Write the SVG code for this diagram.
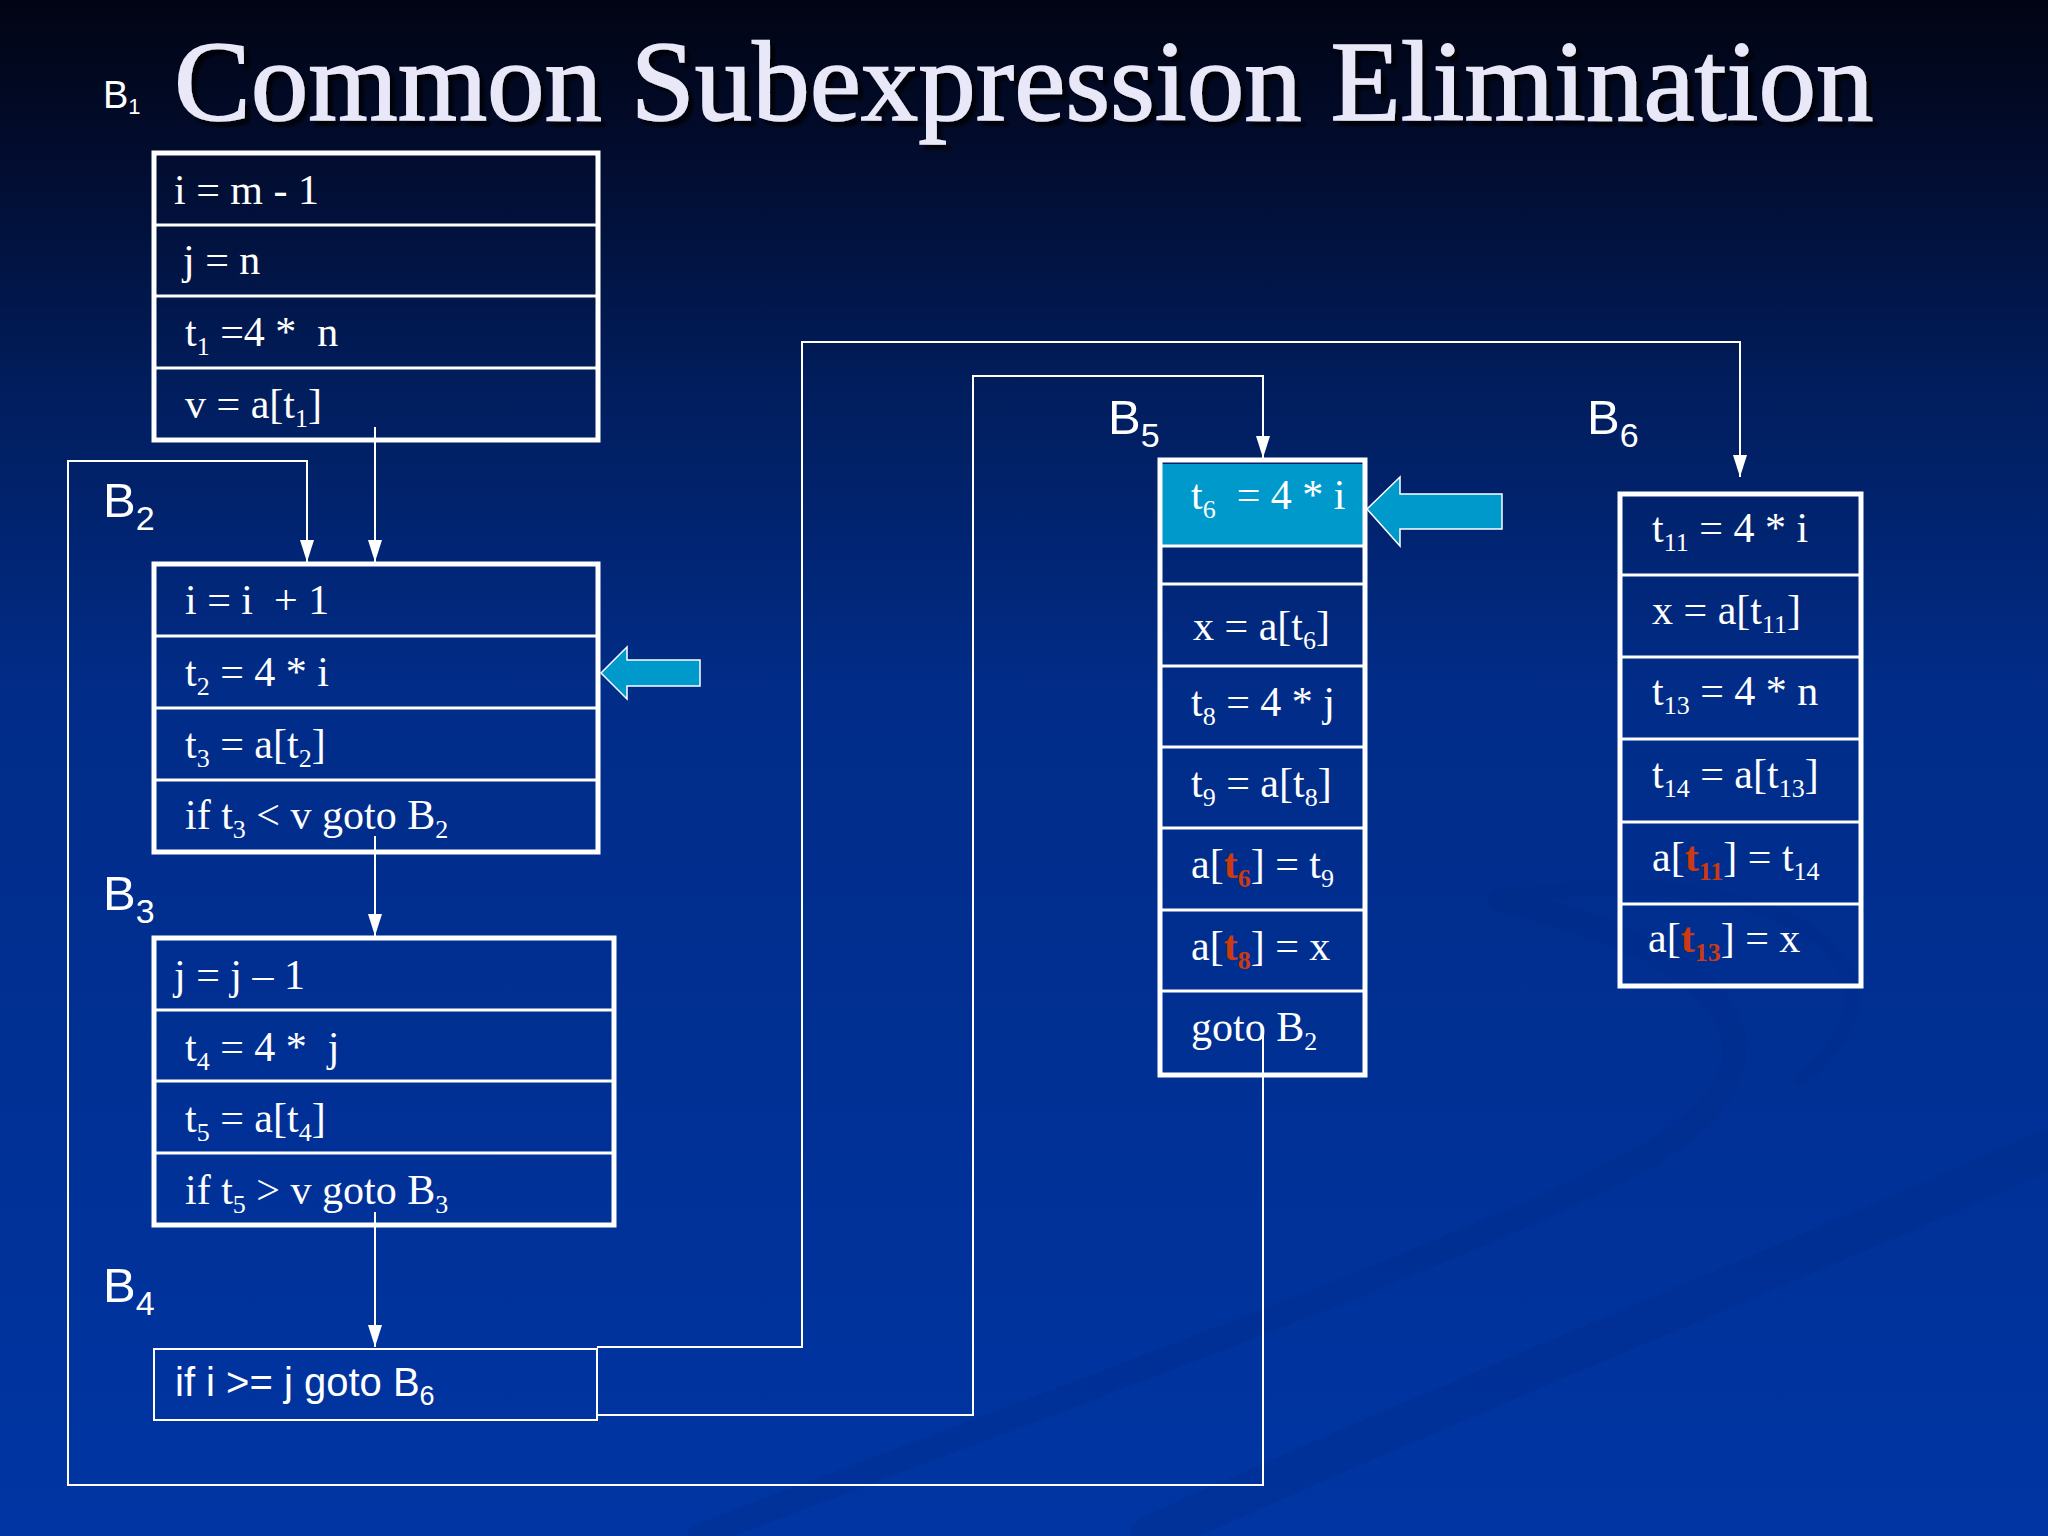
<svg xmlns="http://www.w3.org/2000/svg" width="2048" height="1536" viewBox="0 0 2048 1536">
<defs>
<linearGradient id="bg" x1="0" y1="0" x2="0" y2="1">
<stop offset="0" stop-color="#010413"/>
<stop offset="0.1" stop-color="#020c2e"/>
<stop offset="0.25" stop-color="#011d5c"/>
<stop offset="0.45" stop-color="#012c88"/>
<stop offset="1" stop-color="#0035a3"/>
</linearGradient>
<filter id="shadow" x="-5%" y="-20%" width="110%" height="150%">
<feDropShadow dx="5" dy="5" stdDeviation="1.5" flood-color="#000000" flood-opacity="0.75"/>
</filter>
<marker id="arr" viewBox="0 0 22 14" refX="22" refY="7" markerWidth="22" markerHeight="14" markerUnits="userSpaceOnUse" orient="auto">
<path d="M0,0 L22,7 L0,14 Z" fill="#ffffff"/>
</marker>
<style>
.box{fill:none;stroke:#ffffff;stroke-width:5}
.row{stroke:#ffffff;stroke-width:3}
.t{font-family:"Liberation Serif","Times New Roman",serif;font-size:42px;fill:#ffffff}
.s{font-size:26px}
.r{fill:#cc3a10;font-weight:bold}
.lab{font-family:"Liberation Sans",Arial,sans-serif;font-size:49px;fill:#ffffff}
.ls{font-size:34px}
.con{fill:none;stroke:#ffffff;stroke-width:2;marker-end:url(#arr)}
.cyan{fill:#0099cc;stroke:#ffffff;stroke-width:1.5}
.title{font-family:"Liberation Serif","Times New Roman",serif;font-size:115px}
</style>
</defs>
<rect width="2048" height="1536" fill="url(#bg)"/>
<g id="swoosh" fill="none" stroke="#002a88" stroke-opacity="0.3" stroke-linecap="round">
<path d="M700 1536 C 1000 1420, 1450 1260, 1640 1160 C 1800 1070, 1760 960, 1500 900" stroke-width="24"/>
<path d="M1150 1536 C 1450 1400, 1800 1260, 2048 1150" stroke-width="40"/>
<path d="M1500 900 C 1750 850, 1950 960, 1800 1080" stroke-width="14"/>
</g>

<g id="title">
<text class="title" x="174" y="120" fill="#e8e8f8" stroke="#e8e8f8" stroke-width="1.5" filter="url(#shadow)">Common Subexpression Elimination</text>
<text class="lab" x="103" y="108" style="font-size:38px">B<tspan style="font-size:22px" dy="6">1</tspan></text>
</g>

<g id="B1">
<rect class="box" x="154" y="153" width="444" height="287"/>
<line class="row" x1="154" y1="225" x2="598" y2="225"/>
<line class="row" x1="154" y1="296" x2="598" y2="296"/>
<line class="row" x1="154" y1="368" x2="598" y2="368"/>
<text class="t" x="174" y="204">i = m - 1</text>
<text class="t" x="183" y="274">j = n</text>
<text class="t" x="185" y="346">t<tspan class="s" dy="9">1</tspan><tspan dy="-9"> =4 *&#160; n</tspan></text>
<text class="t" x="185" y="418">v = a[t<tspan class="s" dy="9">1</tspan><tspan dy="-9">]</tspan></text>
</g>

<g id="B2">
<text class="lab" x="103" y="517">B<tspan class="ls" dy="13">2</tspan></text>
<rect class="box" x="154" y="564" width="444" height="288"/>
<line class="row" x1="154" y1="636" x2="598" y2="636"/>
<line class="row" x1="154" y1="708" x2="598" y2="708"/>
<line class="row" x1="154" y1="780" x2="598" y2="780"/>
<text class="t" x="185" y="614">i = i&#160; + 1</text>
<text class="t" x="185" y="686">t<tspan class="s" dy="9">2</tspan><tspan dy="-9"> = 4 * i</tspan></text>
<text class="t" x="185" y="758">t<tspan class="s" dy="9">3</tspan><tspan dy="-9"> = a[t</tspan><tspan class="s" dy="9">2</tspan><tspan dy="-9">]</tspan></text>
<text class="t" x="185" y="829">if t<tspan class="s" dy="9">3</tspan><tspan dy="-9"> &lt; v goto B</tspan><tspan class="s" dy="9">2</tspan></text>
<polygon class="cyan" points="601,673 627,647 627,660 700,660 700,686 627,686 627,699"/>
</g>

<g id="B3">
<text class="lab" x="103" y="910">B<tspan class="ls" dy="13">3</tspan></text>
<rect class="box" x="154" y="938" width="460" height="287"/>
<line class="row" x1="154" y1="1010" x2="614" y2="1010"/>
<line class="row" x1="154" y1="1081" x2="614" y2="1081"/>
<line class="row" x1="154" y1="1153" x2="614" y2="1153"/>
<text class="t" x="174" y="989">j = j – 1</text>
<text class="t" x="185" y="1061">t<tspan class="s" dy="9">4</tspan><tspan dy="-9"> = 4 *&#160; j</tspan></text>
<text class="t" x="185" y="1132">t<tspan class="s" dy="9">5</tspan><tspan dy="-9"> = a[t</tspan><tspan class="s" dy="9">4</tspan><tspan dy="-9">]</tspan></text>
<text class="t" x="185" y="1204">if t<tspan class="s" dy="9">5</tspan><tspan dy="-9"> &gt; v goto B</tspan><tspan class="s" dy="9">3</tspan></text>
</g>

<g id="B4">
<text class="lab" x="103" y="1302">B<tspan class="ls" dy="13">4</tspan></text>
<rect x="154" y="1349" width="443" height="71" fill="none" stroke="#ffffff" stroke-width="2"/>
<text class="lab" x="175" y="1396" style="font-size:40px">if i &gt;= j goto B<tspan style="font-size:27px" dy="9">6</tspan></text>
</g>

<g id="B5">
<text class="lab" x="1108" y="434">B<tspan class="ls" dy="13">5</tspan></text>
<rect x="1160" y="464" width="205" height="82" fill="#0099cc"/>
<rect class="box" x="1160" y="460" width="205" height="615"/>
<line class="row" x1="1160" y1="546" x2="1365" y2="546"/>
<line class="row" x1="1160" y1="584" x2="1365" y2="584"/>
<line class="row" x1="1160" y1="666" x2="1365" y2="666"/>
<line class="row" x1="1160" y1="747" x2="1365" y2="747"/>
<line class="row" x1="1160" y1="828" x2="1365" y2="828"/>
<line class="row" x1="1160" y1="910" x2="1365" y2="910"/>
<line class="row" x1="1160" y1="991" x2="1365" y2="991"/>
<text class="t" x="1191" y="509">t<tspan class="s" dy="9">6</tspan><tspan dy="-9">&#160; = 4 * i</tspan></text>
<text class="t" x="1193" y="640">x = a[t<tspan class="s" dy="9">6</tspan><tspan dy="-9">]</tspan></text>
<text class="t" x="1191" y="716">t<tspan class="s" dy="9">8</tspan><tspan dy="-9"> = 4 * j</tspan></text>
<text class="t" x="1191" y="797">t<tspan class="s" dy="9">9</tspan><tspan dy="-9"> = a[t</tspan><tspan class="s" dy="9">8</tspan><tspan dy="-9">]</tspan></text>
<text class="t" x="1191" y="878">a[<tspan class="r">t</tspan><tspan class="s r" dy="9">6</tspan><tspan dy="-9">] = t</tspan><tspan class="s" dy="9">9</tspan></text>
<text class="t" x="1191" y="960">a[<tspan class="r">t</tspan><tspan class="s r" dy="9">8</tspan><tspan dy="-9">] = x</tspan></text>
<text class="t" x="1191" y="1041">goto B<tspan class="s" dy="9">2</tspan></text>
<polygon class="cyan" points="1367,509 1400,477 1400,494 1502,494 1502,529 1400,529 1400,546"/>
</g>

<g id="B6">
<text class="lab" x="1587" y="434">B<tspan class="ls" dy="13">6</tspan></text>
<rect class="box" x="1620" y="494" width="241" height="492"/>
<line class="row" x1="1620" y1="575" x2="1861" y2="575"/>
<line class="row" x1="1620" y1="657" x2="1861" y2="657"/>
<line class="row" x1="1620" y1="739" x2="1861" y2="739"/>
<line class="row" x1="1620" y1="822" x2="1861" y2="822"/>
<line class="row" x1="1620" y1="904" x2="1861" y2="904"/>
<text class="t" x="1652" y="542">t<tspan class="s" dy="9">11</tspan><tspan dy="-9"> = 4 * i</tspan></text>
<text class="t" x="1652" y="624">x = a[t<tspan class="s" dy="9">11</tspan><tspan dy="-9">]</tspan></text>
<text class="t" x="1652" y="705">t<tspan class="s" dy="9">13</tspan><tspan dy="-9"> = 4 * n</tspan></text>
<text class="t" x="1652" y="788">t<tspan class="s" dy="9">14</tspan><tspan dy="-9"> = a[t</tspan><tspan class="s" dy="9">13</tspan><tspan dy="-9">]</tspan></text>
<text class="t" x="1652" y="871">a[<tspan class="r">t</tspan><tspan class="s r" dy="9">11</tspan><tspan dy="-9">] = t</tspan><tspan class="s" dy="9">14</tspan></text>
<text class="t" x="1648" y="952">a[<tspan class="r">t</tspan><tspan class="s r" dy="9">13</tspan><tspan dy="-9">] = x</tspan></text>
</g>

<g id="connectors">
<path class="con" d="M375 427 V562"/>
<path class="con" d="M1263 1032 V1485 H68 V461 H307 V562"/>
<path class="con" d="M375 836 V936"/>
<path class="con" d="M375 1212 V1347"/>
<path class="con" d="M597 1347 H802 V342 H1740 V477"/>
<path class="con" d="M597 1415 H973 V376 H1263 V458"/>
</g>
</svg>
